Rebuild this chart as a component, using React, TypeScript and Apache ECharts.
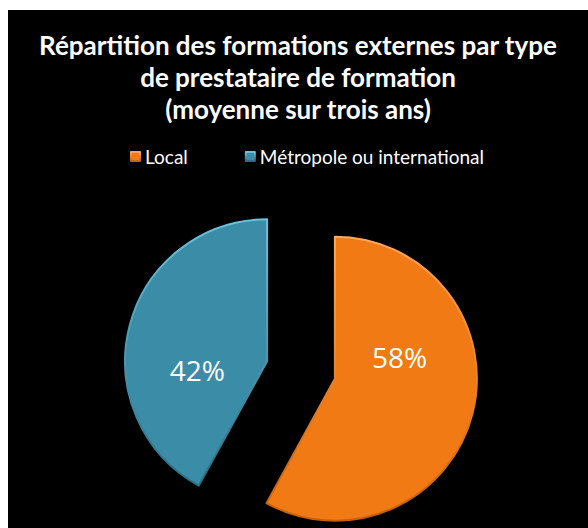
import React, { useEffect, useRef } from "react";
import * as echarts from "echarts";

const titleLines = [
  "Répartition des formations externes par type",
  "de prestataire de formation",
  "(moyenne sur trois ans)",
];
const categories = ["Local", "Métropole ou international"];
const values = [58, 42];
const colors = ["#F27A14", "#3A8CA7"];
const lightEdges = ["#FFA85A", "#6CC3DE"];
const darkEdges = ["#C85E08", "#2A6E84"];
// label nudges (px) to mimic the original label placement
const labelShift = [
  { dx: -7, dy: -40 },
  { dx: 2, dy: 27 },
];

const FONT = "Lato, 'Open Sans', sans-serif";

export default function App() {
  const ref = useRef<HTMLDivElement>(null);
  useEffect(() => {
    if (!ref.current) return;
    const chart = echarts.init(ref.current, null, { renderer: "svg" });
    const total = values.reduce((a, b) => a + b, 0);
    chart.setOption({
      animation: false,
      backgroundColor: "#000000",
      title: {
        text: titleLines.join("\n"),
        left: "center",
        top: 19,
        padding: 0,
        textStyle: {
          color: "#ffffff",
          fontFamily: FONT,
          fontWeight: "bold",
          fontSize: 26,
          lineHeight: 32,
        },
      },
      legend: {
        left: 122,
        top: 137,
        padding: 0,
        itemWidth: 9,
        itemHeight: 9,
        itemGap: 57,
        icon: "rect",
        textStyle: { color: "#ffffff", fontFamily: FONT, fontSize: 19 },
        data: categories,
      },
      series: [
        {
          type: "pie",
          center: [293, 360],
          radius: 142,
          startAngle: 90,
          clockwise: true,
          selectedMode: "multiple",
          selectedOffset: 35,
          emphasis: { disabled: true },
          data: categories.map((name, i) => ({
            name,
            value: values[i],
            selected: true,
            itemStyle: {
              color: colors[i],
              borderWidth: 2,
              borderColor: new echarts.graphic.LinearGradient(0, 0, 0, 1, [
                { offset: 0, color: lightEdges[i] },
                { offset: 1, color: darkEdges[i] },
              ]),
            },
          })),
          label: {
            show: true,
            position: "inside",
            color: "#ffffff",
            fontFamily: "'Open Sans', sans-serif",
            fontSize: 28,
            formatter: (p: any) => Math.round((p.value / total) * 100) + "%",
          },
          labelLayout: (p: any) => labelShift[p.dataIndex],
          labelLine: { show: false },
        },
      ],
    });
    return () => chart.dispose();
  }, []);
  return (
    <div
      ref={ref}
      style={{ position: "absolute", left: 8, top: 10, width: 580, height: 518 }}
    />
  );
}
